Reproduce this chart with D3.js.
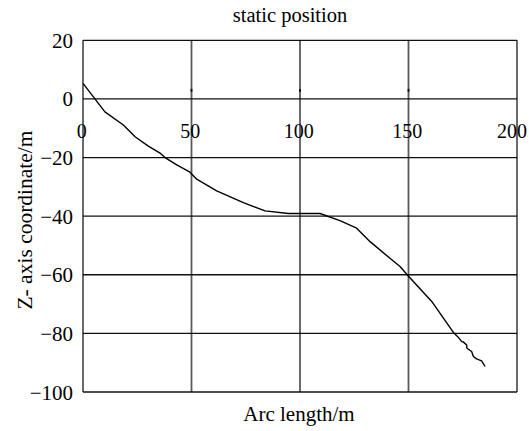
<!DOCTYPE html>
<html>
<head>
<meta charset="utf-8">
<script src="https://cdn.jsdelivr.net/npm/d3@7"></script>
<style>
  html, body { margin: 0; padding: 0; background: #fff; }
  svg { display: block; }
  text { font-family: "Liberation Serif", "Times New Roman", serif; fill: #000; }
</style>
</head>
<body>
<svg id="chart" width="529" height="431"></svg>
<script>
// Static profile: Z coordinate against arc length
const arcLength = [0, 5.5, 10.1, 18.6, 24.0, 30.1, 35.5, 37.8, 43.2, 49.3, 52.4, 61.6,
  73.9, 83.9, 94.6, 109.2, 118.4, 126.1, 132.3, 142.3, 146.1, 149.9, 160.7,
  170.6, 172.8, 174.5, 175.2, 176.8, 176.9, 177.6, 179.1, 179.9, 181.4, 183.7, 185.3];
const zCoord = [5.3, 0, -4.4, -8.9, -12.9, -16.1, -18.5, -20.0, -22.5, -25.0, -27.4, -31.4,
  -35.4, -38.2, -39.1, -39.1, -41.5, -44.1, -48.7, -54.9, -57.2, -60.4, -69.1,
  -79.6, -81.2, -82.8, -82.9, -84.0, -85.0, -85.4, -86.2, -87.9, -88.7, -89.4, -91.3];

const xTicks = [0, 50, 100, 150, 200];
const yTicks = [-100, -80, -60, -40, -20, 0, 20];

const titleText = "static position";
const xTitle = "Arc length/m";
const yTitle = "Z- axis coordinate/m";

const svg = d3.select("#chart");
const plotLeft = 83, plotRight = 517, plotTop = 40.3, plotBottom = 392;

const x = d3.scaleLinear().domain([0, 200]).range([plotLeft, plotRight]);
const y = d3.scaleLinear().domain([-100, 20]).range([plotBottom, plotTop]);

// vertical grid lines (grey)
svg.append("g")
  .selectAll("line")
  .data(xTicks)
  .join("line")
  .attr("x1", d => x(d)).attr("x2", d => x(d))
  .attr("y1", plotTop).attr("y2", plotBottom)
  .attr("stroke", "#5a5a5a")
  .attr("stroke-width", 1.8);

// horizontal grid lines (black)
svg.append("g")
  .selectAll("line")
  .data(yTicks)
  .join("line")
  .attr("x1", plotLeft).attr("x2", plotRight)
  .attr("y1", d => y(d)).attr("y2", d => y(d))
  .attr("stroke", "#111")
  .attr("stroke-width", 1.3);

// small tick marks on the inner grid lines above the zero line
const minorX = [50, 100, 150];
svg.append("g")
  .selectAll("line")
  .data(minorX)
  .join("line")
  .attr("x1", d => x(d)).attr("x2", d => x(d))
  .attr("y1", y(0) - 10).attr("y2", y(0) - 7)
  .attr("stroke", "#111")
  .attr("stroke-width", 1.8);

// y tick labels
svg.append("g")
  .selectAll("text")
  .data(yTicks)
  .join("text")
  .attr("x", 73)
  .attr("y", d => y(d))
  .attr("dy", "0.36em")
  .attr("text-anchor", "end")
  .attr("font-size", 21)
  .text(d => String(d).replace("-", "\u2212"));

// x tick labels, placed just below the zero line; the last one kept inside the frame edge
svg.append("g")
  .selectAll("text")
  .data(xTicks)
  .join("text")
  .attr("x", (d, i) => i === xTicks.length - 1 ? x(d) + 10 : x(d) - 1.2)
  .attr("y", y(0) + 39)
  .attr("text-anchor", (d, i) => i === xTicks.length - 1 ? "end" : "middle")
  .attr("font-size", 20)
  .text(d => d);

// profile line
const line = d3.line()
  .x((d, i) => x(arcLength[i]))
  .y(d => y(d));

svg.append("path")
  .datum(zCoord)
  .attr("d", line)
  .attr("fill", "none")
  .attr("stroke", "#000")
  .attr("stroke-width", 1.4)
  .attr("stroke-linejoin", "round");

// titles
svg.append("text")
  .attr("x", 290).attr("y", 22)
  .attr("text-anchor", "middle")
  .attr("font-size", 20.5)
  .text(titleText);

svg.append("text")
  .attr("x", 299).attr("y", 421)
  .attr("text-anchor", "middle")
  .attr("font-size", 21)
  .text(xTitle);

svg.append("text")
  .attr("transform", "translate(32,220) rotate(-90)")
  .attr("text-anchor", "middle")
  .attr("font-size", 21.5)
  .text(yTitle);
</script>
</body>
</html>
